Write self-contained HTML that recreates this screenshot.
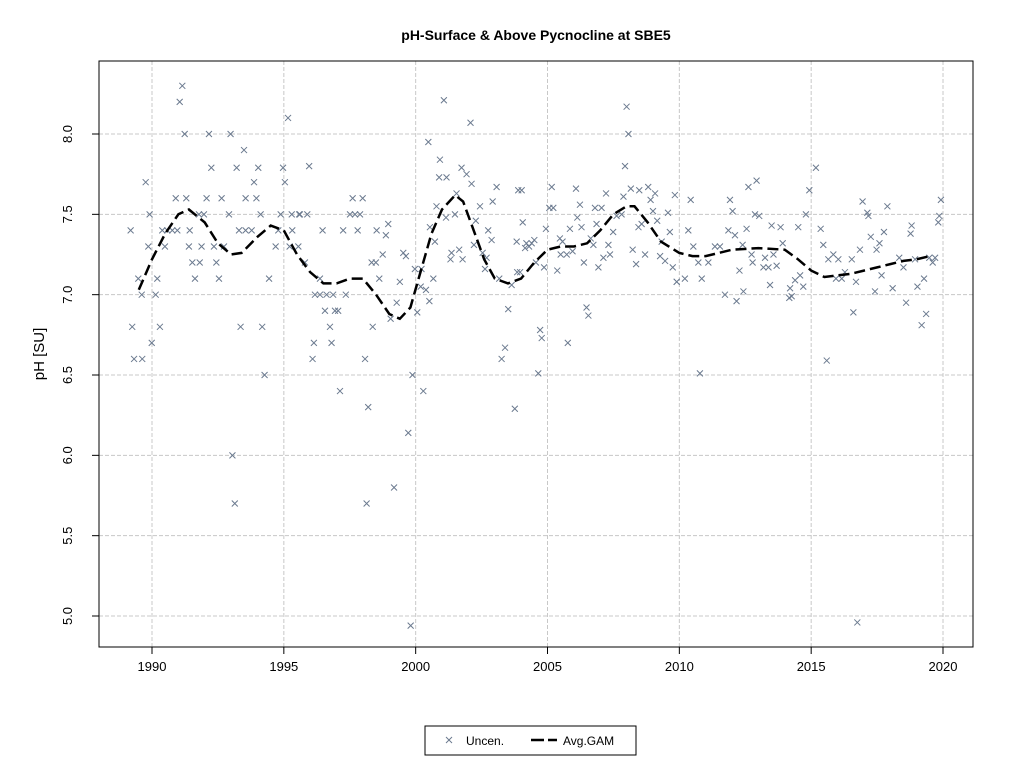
<!DOCTYPE html>
<html><head><meta charset="utf-8"><style>
body{margin:0;background:#fff;font-family:"Liberation Sans",Arial,sans-serif}
svg text{font-family:"Liberation Sans",Arial,sans-serif}
</style></head><body>
<svg id="chart" width="1024" height="768" xmlns="http://www.w3.org/2000/svg">
<rect width="1024" height="768" fill="#fff"/>
<text x="536" y="40" font-size="14" font-weight="bold" text-anchor="middle">pH-Surface &amp; Above Pycnocline at SBE5</text>
<text transform="translate(44,354) rotate(-90)" font-size="15" text-anchor="middle">pH [SU]</text>
<g id="grid"></g>
<g id="axes"></g>
<g id="points"></g>
<path id="gam" fill="none" stroke="#000" stroke-width="2.5" stroke-dasharray="11,5"/>
<rect x="99" y="61" width="874" height="586" fill="none" stroke="#000"/>
<g>
<rect x="425" y="726" width="211" height="29" fill="#fff" stroke="#000"/>
<g stroke="#6b7a8f" stroke-width="1"><line x1="446" y1="737" x2="452" y2="743"/><line x1="452" y1="737" x2="446" y2="743"/></g>
<text x="466" y="745" font-size="12">Uncen.</text>
<line x1="531" y1="740" x2="557" y2="740" stroke="#000" stroke-width="2.5" stroke-dasharray="13,4"/>
<text x="563" y="745" font-size="12">Avg.GAM</text>
</g>
</svg>
<script>
const xTicks=[1990,1995,2000,2005,2010,2015,2020];
const yTicks=[5.0,5.5,6.0,6.5,7.0,7.5,8.0];
const yTickLabels=["5.0","5.5","6.0","6.5","7.0","7.5","8.0"];
const ptYears=[1991.15,1991.05,1995.16,1991.24,1992.16,1992.98,1993.49,1992.25,1993.21,1994.03,1994.97,1989.76,1993.87,1995.04,1990.9,1991.3,1992.07,1992.64,1993.55,1993.96,1989.91,1991.78,1991.97,1992.92,1994.12,1994.88,1995.3,1995.58,1989.19,1990.39,1990.58,1990.77,1990.96,1991.43,1993.3,1993.55,1993.78,1994.79,1995.32,1989.86,1990.49,1991.4,1991.88,1992.35,1992.73,1994.69,1995.22,1995.55,1991.53,1991.81,1992.44,1989.48,1990.2,1991.63,1992.54,1994.44,1989.61,1990.14,1989.25,1990.3,1993.36,1994.18,1989.99,1989.32,1989.63,1994.27,1993.05,1993.14,
1995.96,1995.61,1995.89,1997.61,1997.99,1997.51,1997.7,1997.89,1996.47,1997.25,1997.8,1998.52,1998.87,1998.96,1998.75,1998.33,1998.49,1999.53,1999.63,1995.8,1996.37,1998.62,1999.4,1996.18,1996.37,1996.62,1996.87,1997.35,1996.56,1996.94,1997.06,1996.75,1998.37,1996.14,1996.81,1996.09,1998.08,1999.28,1999.05,2000.06,1999.88,1997.13,2000.29,1998.2,1999.72,1999.18,1998.14,1999.81,1999.97,2000.22,2000.19,2000.39,2000.52,2000.67,2000.54,2000.73,2000.48,2000.92,2000.89,2001.17,2001.07,2000.79,2001.15,2001.49,2001.55,2001.36,2001.65,2001.32,2001.78,2001.74,2001.93,2002.12,2002.08,2002.44,2002.28,2002.75,2002.92,2003.07,2002.21,2002.54,2002.69,2002.88,2002.63,2003.17,2003.64,2003.89,2003.83,2003.85,2003.51,2003.39,2003.26,2003.76,
2004.02,2004.06,2004.2,2004.4,2004.5,2004.15,2004.3,2003.96,2004.56,2004.87,2005.37,2004.94,2005.16,2005.07,2005.22,2005.47,2005.57,2005.5,2005.73,2005.95,2005.85,2006.08,2006.23,2006.13,2006.29,2006.38,2006.64,2006.74,2006.8,2007.05,2006.86,2007.22,2007.31,2007.12,2007.37,2006.93,2007.49,2007.62,2007.81,2007.94,2008.0,2008.07,2007.88,2008.16,2008.48,2008.82,2008.91,2009.08,2008.57,2008.45,2008.23,2008.7,2008.36,2009.0,2009.16,2009.57,2009.64,2009.33,2009.27,2009.46,2009.75,2009.9,2009.83,2006.48,2006.55,2004.72,2004.78,2005.77,2004.65,
2009.9,2010.21,2010.85,2010.34,2010.53,2010.72,2011.1,2011.35,2011.54,2011.73,2012.17,2012.43,2012.28,2011.86,2012.11,2011.92,2012.02,2012.62,2012.93,2012.55,2012.4,2012.74,2012.78,2013.19,2013.38,2013.25,2013.44,2013.57,2013.69,2012.87,2013.03,2013.5,2013.84,2013.92,2014.51,2014.8,2014.93,2015.18,2014.2,2014.17,2014.26,2014.39,2014.58,2014.7,2015.36,2015.46,2015.65,2015.84,2016.03,2015.94,2016.16,2016.28,2016.54,2016.6,2016.7,2015.59,2016.85,2016.95,2017.13,2017.17,2017.26,2017.48,2017.59,2017.76,2017.89,2017.42,2017.67,2018.09,2018.34,2018.5,2018.6,2018.81,2018.77,2018.94,2019.03,2019.28,2019.36,2019.19,2019.48,2019.61,2019.7,2019.82,2019.86,2019.92,2010.78,2016.75,2010.43];
const ptValues=[8.3,8.2,8.1,8.0,8.0,8.0,7.9,7.79,7.79,7.79,7.79,7.7,7.7,7.7,7.6,7.6,7.6,7.6,7.6,7.6,7.5,7.5,7.5,7.5,7.5,7.5,7.5,7.5,7.4,7.4,7.4,7.4,7.4,7.4,7.4,7.4,7.4,7.4,7.4,7.3,7.3,7.3,7.3,7.3,7.3,7.3,7.3,7.3,7.2,7.2,7.2,7.1,7.1,7.1,7.1,7.1,7.0,7.0,6.8,6.8,6.8,6.8,6.7,6.6,6.6,6.5,6.0,5.7,
7.8,7.5,7.5,7.6,7.6,7.5,7.5,7.5,7.4,7.4,7.4,7.4,7.37,7.44,7.25,7.2,7.2,7.26,7.24,7.2,7.1,7.1,7.08,7.0,7.0,7.0,7.0,7.0,6.9,6.9,6.9,6.8,6.8,6.7,6.7,6.6,6.6,6.95,6.85,6.89,6.5,6.4,6.4,6.3,6.14,5.8,5.7,4.94,7.16,7.16,7.05,7.03,6.96,7.1,7.42,7.33,7.95,7.84,7.73,7.73,8.21,7.55,7.48,7.5,7.63,7.26,7.28,7.22,7.22,7.79,7.75,7.69,8.07,7.55,7.46,7.4,7.58,7.67,7.31,7.26,7.23,7.34,7.16,7.1,7.06,7.65,7.33,7.14,6.91,6.67,6.6,6.29,
7.65,7.45,7.32,7.32,7.34,7.29,7.3,7.14,7.2,7.17,7.15,7.41,7.67,7.54,7.54,7.35,7.33,7.25,7.25,7.27,7.41,7.66,7.56,7.48,7.42,7.2,7.35,7.31,7.54,7.54,7.44,7.63,7.31,7.23,7.25,7.17,7.39,7.49,7.5,7.8,8.17,8.0,7.61,7.66,7.65,7.67,7.59,7.63,7.44,7.42,7.28,7.25,7.19,7.52,7.46,7.51,7.39,7.33,7.24,7.21,7.17,7.08,7.62,6.92,6.87,6.78,6.73,6.7,6.51,
7.08,7.1,7.1,7.4,7.3,7.2,7.2,7.3,7.3,7.0,6.96,7.02,7.15,7.4,7.37,7.59,7.52,7.67,7.71,7.41,7.31,7.25,7.2,7.17,7.17,7.23,7.06,7.25,7.18,7.5,7.49,7.43,7.42,7.32,7.42,7.5,7.65,7.79,7.04,6.98,6.99,7.09,7.12,7.05,7.41,7.31,7.22,7.25,7.22,7.1,7.1,7.14,7.22,6.89,7.08,6.59,7.28,7.58,7.51,7.49,7.36,7.28,7.32,7.39,7.55,7.02,7.12,7.04,7.23,7.17,6.95,7.43,7.38,7.22,7.05,7.1,6.88,6.81,7.23,7.2,7.23,7.45,7.49,7.59,6.51,4.96,7.59];
const gamYears=[1989.5,1990,1990.5,1991,1991.4,1992,1992.5,1993,1993.4,1994,1994.5,1995,1995.5,1996,1996.5,1997,1997.5,1998,1998.5,1999,1999.4,1999.8,2000.2,2000.6,2001,2001.5,2001.8,2002.2,2002.6,2003,2003.5,2004,2004.5,2005,2005.5,2006,2006.5,2007,2007.5,2008,2008.3,2008.8,2009.3,2010,2010.5,2011,2011.5,2012,2013,2014,2014.5,2015,2015.5,2016,2016.5,2017,2017.5,2018,2018.5,2019,2019.5];
const gamValues=[7.03,7.22,7.38,7.5,7.53,7.45,7.32,7.25,7.26,7.36,7.43,7.4,7.25,7.14,7.07,7.07,7.1,7.1,7.0,6.88,6.85,6.92,7.15,7.38,7.53,7.62,7.58,7.4,7.22,7.1,7.07,7.1,7.2,7.28,7.3,7.3,7.32,7.4,7.5,7.55,7.55,7.45,7.33,7.26,7.24,7.24,7.26,7.28,7.29,7.28,7.22,7.15,7.11,7.12,7.13,7.15,7.17,7.19,7.21,7.22,7.24];
const NS='http://www.w3.org/2000/svg';
function xs(v){return 152+(v-1990)*26.367;}
function ys(v){return 134+(8-v)*160.67;}
function mk(tag,attrs,parent){const e=document.createElementNS(NS,tag);for(const k in attrs)e.setAttribute(k,attrs[k]);parent.appendChild(e);return e;}
const grid=document.getElementById('grid'),axes=document.getElementById('axes'),pts=document.getElementById('points');
xTicks.forEach(t=>{
 const g=mk('line',{x1:xs(t),x2:xs(t),y1:61,y2:647,stroke:'#c8c8c8','stroke-dasharray':'4,2'},grid);
 
 
 const tk=mk('line',{x1:xs(t),x2:xs(t),y1:647,y2:654,stroke:'#000'},axes);
 
 
 const tx=mk('text',{x:xs(t),y:671,'font-size':13,'text-anchor':'middle'},axes);
 tx.textContent=t;
 
 
});
yTicks.forEach((t,i)=>{
 const g=mk('line',{x1:99,x2:973,y1:ys(t),y2:ys(t),stroke:'#c8c8c8','stroke-dasharray':'4,2'},grid);
 
 
 const tk=mk('line',{x1:92,x2:99,y1:ys(t),y2:ys(t),stroke:'#000'},axes);
 
 
 const tx=mk('text',{x:0,y:0,'font-size':13,'text-anchor':'middle',transform:`translate(72,${ys(t)}) rotate(-90)`},axes);
 tx.textContent=yTickLabels[i];
 
 
});
ptYears.forEach((yr,i)=>{
 const cx=xs(yr),cy=ys(ptValues[i]);
 const p=mk('path',{d:`M${cx-3},${cy-3}L${cx+3},${cy+3}M${cx+3},${cy-3}L${cx-3},${cy+3}`,stroke:'#6b7a8f','stroke-width':1,fill:'none'},pts);
 
 
});
document.getElementById('gam').setAttribute('d',gamYears.map((yr,i)=>(i?'L':'M')+xs(yr).toFixed(1)+','+ys(gamValues[i]).toFixed(1)).join(''));
</script>
</body></html>
